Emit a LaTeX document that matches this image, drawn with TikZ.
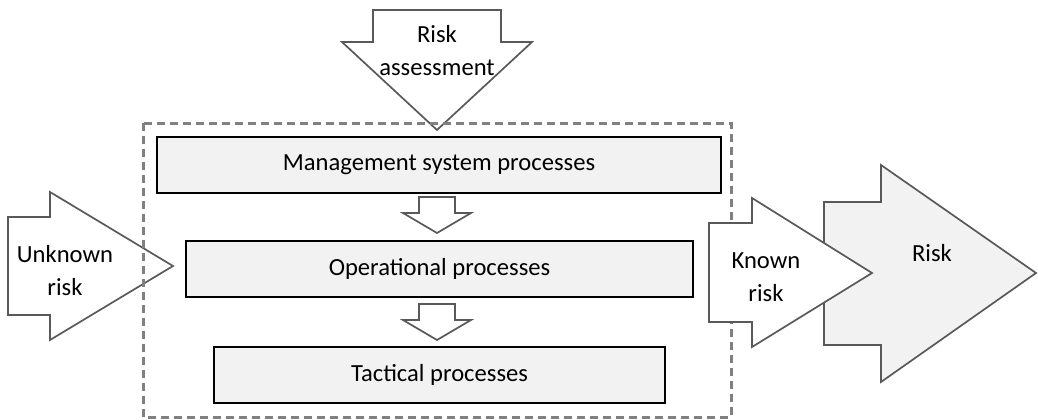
\documentclass[tikz,border=0pt]{standalone}
\usepackage{fontspec}
\setmainfont{Carlito}
\definecolor{boxfill}{HTML}{F2F2F2}
\definecolor{arrgray}{HTML}{595959}
\definecolor{dashgray}{HTML}{808080}
\begin{document}
\begin{tikzpicture}[x=1pt,y=-1pt,
  blockarrow/.style={draw=arrgray,line width=1.7pt,line join=miter,fill=white},
  procbox/.style={draw=black,line width=1.7pt,fill=boxfill},
  lbl/.style={font=\fontsize{24.6}{33}\selectfont,align=center,inner sep=0pt},
  frame/.style={draw=dashgray,line width=3pt,dash pattern=on 8pt off 5pt}]
\useasboundingbox (0,0) rectangle (1038,420);
% risk assessment arrow
\draw[blockarrow,fill=none] (373,10) -- (501,10) -- (501,42) -- (532,42) -- (437,130) -- (342,42) -- (373,42) -- cycle;
\node[lbl] (ra) at (437,51) {Risk\\assessment};
% unknown risk arrow
\draw[blockarrow,fill=none] (8,217) -- (50,217) -- (50,192) -- (173,266) -- (50,340) -- (50,315) -- (8,315) -- cycle;
\node[lbl] (ur) at (65,271) {Unknown\\risk};
% dashed frame
\draw[frame] (143,123) rectangle (731,417);
% process boxes
\draw[procbox] (157,137) rectangle (721,193);
\node[lbl] (msp) at (439,165) {Management system processes};
\draw[procbox] (186,241) rectangle (693,297);
\node[lbl] (op) at (439.5,269) {Operational processes};
\draw[procbox] (214,347) rectangle (665,403);
\node[lbl] (tp) at (439.5,375) {Tactical processes};
% small down arrows
\draw[blockarrow] (419,197) -- (455,197) -- (455,213) -- (471,213) -- (437,233) -- (403,213) -- (419,213) -- cycle;
\draw[blockarrow] (419,304) -- (455,304) -- (455,320) -- (471,320) -- (437,340) -- (403,320) -- (419,320) -- cycle;
% risk arrow
\draw[blockarrow,fill=boxfill] (824,202) -- (881,202) -- (881,165) -- (1036,273) -- (881,382) -- (881,345) -- (824,345) -- cycle;
\node[lbl] (risk) at (932,253) {Risk};
% known risk arrow
\draw[blockarrow] (709,223) -- (752,223) -- (752,198) -- (872,273) -- (752,347) -- (752,322) -- (709,322) -- cycle;
\node[lbl] (kr) at (766,277) {Known\\risk};
\end{tikzpicture}
\end{document}
